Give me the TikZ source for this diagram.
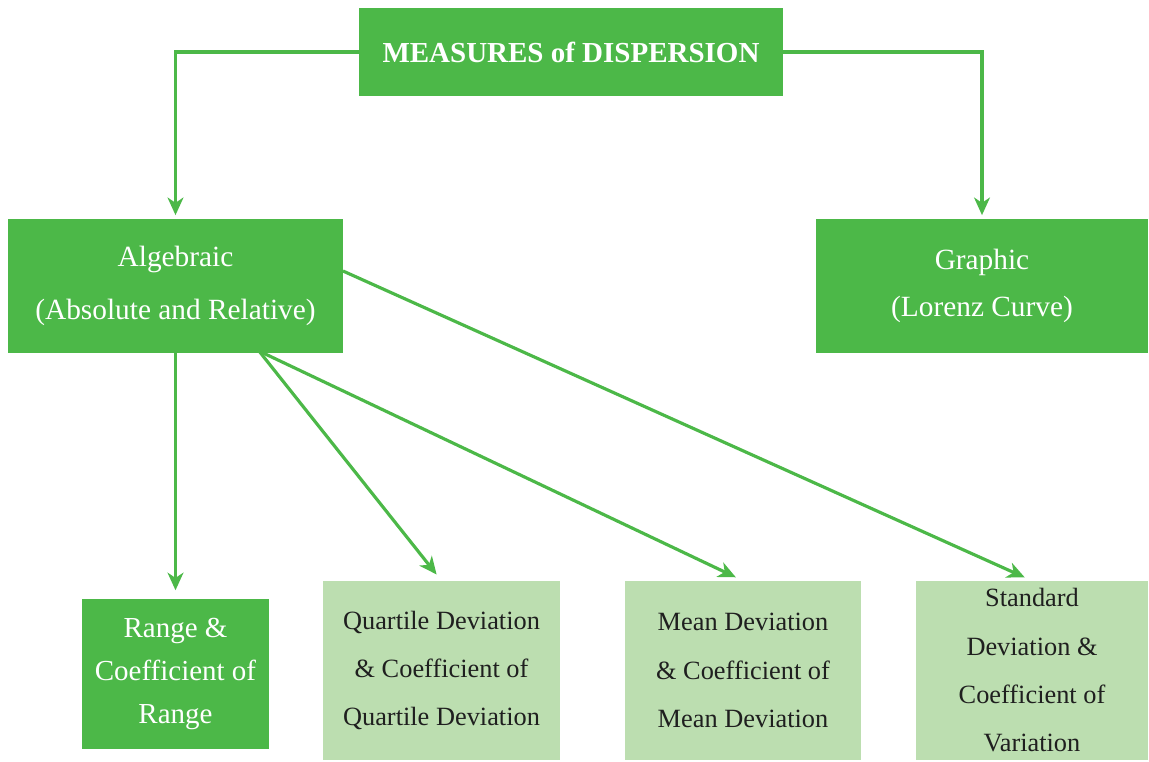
\documentclass[tikz,border=0pt]{standalone}
\usepackage{fontspec}
\setmainfont{Liberation Serif}
\usetikzlibrary{arrows.meta}
\definecolor{darkgr}{HTML}{4CB848}
\definecolor{lightgr}{HTML}{BCDEB0}
\definecolor{inkgr}{HTML}{4CB848}
\tikzset{
  darkbox/.style={fill=darkgr, text=white, align=center, inner sep=0pt,
    font=\fontsize{16.7}{30}\selectfont},
  lightbox/.style={fill=lightgr, text=black!88, align=center, inner sep=0pt,
    font=\fontsize{15}{27.5}\selectfont},
  arr/.style={draw=inkgr, line width=1.8pt,
    -{Stealth[length=10pt,width=9pt,inset=3pt]}}
}
\begin{document}
\begin{tikzpicture}[x=0.02cm, y=-0.02cm]
    \useasboundingbox (0,0) rectangle (1149,761);
    % top
    \node[darkbox, minimum width=8.48cm, minimum height=1.78cm,
      font=\fontsize{16.5}{20}\selectfont\bfseries] (top) at (571,52) {MEASURES of DISPERSION};
    % second row
    \node[darkbox, minimum width=6.7cm, minimum height=2.68cm] (alg) at (175.5,286)
      {Algebraic\\(Absolute and Relative)};
    \node[darkbox, minimum width=6.64cm, minimum height=2.68cm,
      font=\fontsize{16.7}{27}\selectfont] (graph) at (982,286) {Graphic\\(Lorenz Curve)};
    % bottom row
    \node[darkbox, minimum width=3.76cm, minimum height=3.02cm,
      font=\fontsize{16.5}{24.5}\selectfont] (range) at (175.5,674) {Range \&\\Coefficient of\\Range};
    \node[lightbox, minimum width=4.74cm, minimum height=3.58cm] (quart) at (441.5,670.5)
      {Quartile Deviation\\\& Coefficient of\\Quartile Deviation};
    \node[lightbox, minimum width=4.72cm, minimum height=3.58cm] (mean) at (743,670.5)
      {Mean Deviation\\\& Coefficient of\\Mean Deviation};
    \node[lightbox, minimum width=4.64cm, minimum height=3.58cm] (std) at (1032,670.5)
      {Standard\\Deviation \&\\Coefficient of\\Variation};
    \coordinate (algB) at (259,351);
    \coordinate (algR) at (343,271);
    % connectors
    \draw[arr, shorten >=2pt] (top.west) -| (alg.north);
    \draw[arr, shorten >=2pt] (top.east) -| (graph.north);
    \draw[arr, shorten >=4.5pt] (alg.south) -- (range.north);
    \draw[arr, shorten >=4.5pt] (algB) -- (quart.north);
    \draw[arr, shorten >=4.5pt] (algB) -- (mean.north);
    \draw[arr, shorten >=4.5pt] (algR) -- (std.north);
\end{tikzpicture}
\end{document}
